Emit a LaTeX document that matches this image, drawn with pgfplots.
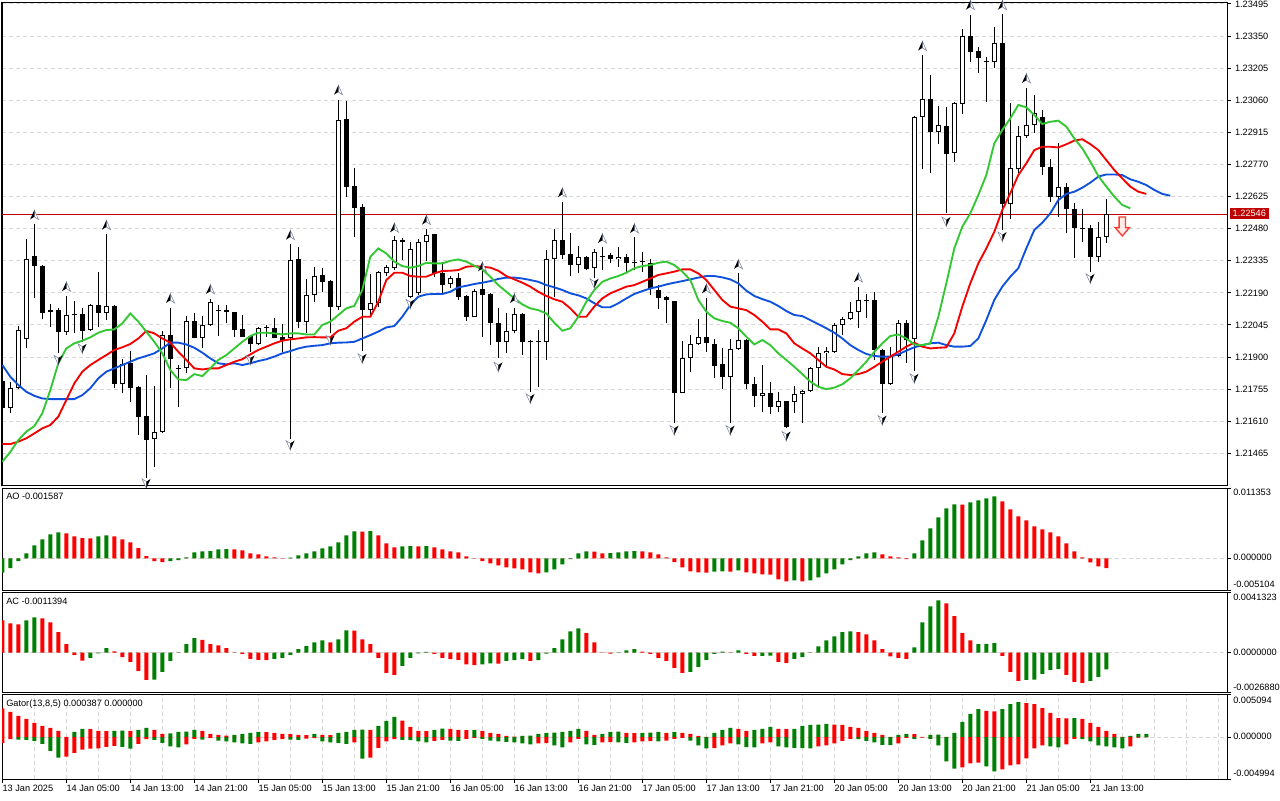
\documentclass[border=0pt]{standalone}
\usepackage{fontspec}
\setmainfont{Liberation Sans}
\usepackage{pgfplots}
\usepackage{pgfplotstable}
\pgfplotsset{compat=1.18}

\definecolor{mtgreen}{RGB}{0,128,0}
\definecolor{mtred}{RGB}{255,0,0}
\definecolor{lipsc}{RGB}{50,200,50}
\definecolor{teethc}{RGB}{245,0,0}
\definecolor{jawc}{RGB}{15,80,220}
\definecolor{gridc}{RGB}{215,215,215}
\definecolor{pricec}{RGB}{190,0,0}
\definecolor{sellc}{RGB}{255,60,50}
\definecolor{sellf}{RGB}{255,236,230}
\definecolor{arrowedge}{RGB}{120,130,160}

\pgfdeclareplotmark{fracup}{%
  \pgfsetlinewidth{0.4pt}%
  \pgfsetstrokecolor{arrowedge}%
  \pgfsetfillcolor{white}%
  \pgfpathmoveto{\pgfqpoint{0pt}{3.6pt}}%
  \pgfpathlineto{\pgfqpoint{3.2pt}{-3.4pt}}%
  \pgfpathlineto{\pgfqpoint{0pt}{-1.4pt}}%
  \pgfpathclose
  \pgfusepath{fill,stroke}%
  \pgfsetfillcolor{black}%
  \pgfpathmoveto{\pgfqpoint{0pt}{3.6pt}}%
  \pgfpathlineto{\pgfqpoint{-3.2pt}{-3.4pt}}%
  \pgfpathlineto{\pgfqpoint{0pt}{-1.4pt}}%
  \pgfpathclose
  \pgfusepath{fill}%
}
\pgfdeclareplotmark{fracdown}{%
  \pgfsetlinewidth{0.4pt}%
  \pgfsetstrokecolor{arrowedge}%
  \pgfsetfillcolor{white}%
  \pgfpathmoveto{\pgfqpoint{0pt}{-3.6pt}}%
  \pgfpathlineto{\pgfqpoint{-3.2pt}{3.4pt}}%
  \pgfpathlineto{\pgfqpoint{0pt}{1.4pt}}%
  \pgfpathclose
  \pgfusepath{fill,stroke}%
  \pgfsetfillcolor{black}%
  \pgfpathmoveto{\pgfqpoint{0pt}{-3.6pt}}%
  \pgfpathlineto{\pgfqpoint{3.2pt}{3.4pt}}%
  \pgfpathlineto{\pgfqpoint{0pt}{1.4pt}}%
  \pgfpathclose
  \pgfusepath{fill}%
}
\pgfdeclareplotmark{sellarrow}{%
  \pgfsetlinewidth{1pt}%
  \pgfsetstrokecolor{sellc}%
  \pgfsetfillcolor{sellf}%
  \pgfpathmoveto{\pgfqpoint{-2.4pt}{7.1pt}}%
  \pgfpathlineto{\pgfqpoint{2.4pt}{7.1pt}}%
  \pgfpathlineto{\pgfqpoint{2.4pt}{-0.9pt}}%
  \pgfpathlineto{\pgfqpoint{5.3pt}{-0.9pt}}%
  \pgfpathlineto{\pgfqpoint{0pt}{-7.1pt}}%
  \pgfpathlineto{\pgfqpoint{-5.3pt}{-0.9pt}}%
  \pgfpathlineto{\pgfqpoint{-2.4pt}{-0.9pt}}%
  \pgfpathclose
  \pgfusepath{fill,stroke}%
}

\newcommand{\lbl}{\fontsize{6.9}{8}\selectfont}

\pgfplotsset{
  mtaxis/.style={
    scale only axis, width=918.75pt, anchor=north west,
    xmin=-0.04, xmax=153.09,
    scaled y ticks=false, scaled x ticks=false,
    axis line style={line width=0.75pt, black},
    tick align=outside, major tick length=3pt, minor tick length=0pt,
    ytick pos=right, xtick pos=bottom,
    tick style={line width=0.75pt, black},
    grid=both,
    major grid style={gridc, line width=0.75pt, dash pattern=on 3pt off 2.25pt},
    minor grid style={gridc, line width=0.75pt, dash pattern=on 3pt off 2.25pt},
    ticklabel style={font=\lbl},
  },
  ebar/.style 2 args={mark=none, draw=none, forget plot,
    error bars/y dir=plus, error bars/y explicit, error bars/error mark=none,
    error bars/error bar style={draw=#2, line width=#1}},
}

\begin{document}

\pgfplotstableread{
k O H L C
0 1.21792 1.21796 1.21664 1.21668
1 1.21668 1.21789 1.21649 1.21759
2 1.21759 1.22040 1.21754 1.22022
3 1.21980 1.22432 1.21942 1.22341
4 1.22356 1.22501 1.22168 1.22313
5 1.22313 1.22316 1.22070 1.22100
6 1.22102 1.22140 1.22037 1.22111
7 1.22112 1.22120 1.21917 1.22015
8 1.22015 1.22176 1.21999 1.22090
9 1.22091 1.22153 1.22007 1.22088
10 1.22094 1.22120 1.21969 1.22018
11 1.22022 1.22138 1.22018 1.22135
12 1.22135 1.22284 1.22037 1.22100
13 1.22100 1.22454 1.22067 1.22131
14 1.22131 1.22134 1.21759 1.21778
15 1.21777 1.21890 1.21736 1.21867
16 1.21872 1.21927 1.21698 1.21762
17 1.21763 1.21769 1.21548 1.21631
18 1.21634 1.21819 1.21352 1.21525
19 1.21528 1.21769 1.21402 1.21560
20 1.21560 1.22019 1.21555 1.21999
21 1.21999 1.22120 1.21762 1.21890
22 1.21850 1.21864 1.21676 1.21847
23 1.21849 1.22085 1.21829 1.22063
24 1.22063 1.22100 1.21984 1.21987
25 1.21987 1.22085 1.21942 1.22045
26 1.22045 1.22164 1.22042 1.22149
27 1.22111 1.22135 1.21996 1.22108
28 1.22112 1.22135 1.22052 1.22102
29 1.22102 1.22103 1.21992 1.22022
30 1.22025 1.22090 1.21989 1.21992
31 1.21995 1.21998 1.21924 1.21957
32 1.21957 1.22037 1.21954 1.22033
33 1.22033 1.22045 1.21992 1.22031
34 1.22033 1.22075 1.21984 1.21987
35 1.21989 1.22049 1.21924 1.21974
36 1.21984 1.22409 1.21528 1.22338
37 1.22341 1.22396 1.22030 1.22060
38 1.22060 1.22253 1.22010 1.22180
39 1.22180 1.22307 1.22150 1.22266
40 1.22269 1.22304 1.22195 1.22240
41 1.22243 1.22248 1.22007 1.22128
42 1.22128 1.23061 1.22112 1.22971
43 1.22975 1.23058 1.22625 1.22670
44 1.22673 1.22753 1.22444 1.22575
45 1.22579 1.22591 1.21929 1.22112
46 1.22112 1.22275 1.22090 1.22143
47 1.22143 1.22289 1.22128 1.22284
48 1.22278 1.22316 1.22266 1.22305
49 1.22301 1.22448 1.22293 1.22429
50 1.22429 1.22439 1.22338 1.22418
51 1.22173 1.22418 1.22165 1.22388
52 1.22188 1.22433 1.22180 1.22418
53 1.22418 1.22478 1.22335 1.22451
54 1.22454 1.22454 1.22263 1.22281
55 1.22281 1.22331 1.22188 1.22225
56 1.22228 1.22268 1.22210 1.22255
57 1.22255 1.22278 1.22158 1.22173
58 1.22176 1.22180 1.22063 1.22082
59 1.22082 1.22207 1.22079 1.22198
60 1.22206 1.22296 1.21992 1.22180
61 1.22183 1.22188 1.21954 1.22052
62 1.22052 1.22120 1.21894 1.21969
63 1.21969 1.22097 1.21920 1.22018
64 1.22019 1.22120 1.22007 1.22093
65 1.22093 1.22097 1.21909 1.21966
66 1.21971 1.21977 1.21743 1.21968
67 1.21971 1.22022 1.21763 1.21969
68 1.21969 1.22384 1.21887 1.22341
69 1.22341 1.22477 1.22173 1.22429
70 1.22429 1.22602 1.22341 1.22361
71 1.22364 1.22459 1.22266 1.22316
72 1.22316 1.22403 1.22278 1.22350
73 1.22353 1.22358 1.22293 1.22298
74 1.22301 1.22388 1.22255 1.22373
75 1.22352 1.22396 1.22293 1.22356
76 1.22361 1.22368 1.22323 1.22341
77 1.22341 1.22396 1.22308 1.22353
78 1.22353 1.22365 1.22286 1.22323
79 1.22323 1.22441 1.22293 1.22331
80 1.22329 1.22373 1.22286 1.22328
81 1.22326 1.22341 1.22180 1.22206
82 1.22203 1.22225 1.22117 1.22168
83 1.22173 1.22176 1.22055 1.22158
84 1.22153 1.22155 1.21603 1.21739
85 1.21739 1.21972 1.21736 1.21894
86 1.21894 1.21999 1.21834 1.21957
87 1.21957 1.22072 1.21954 1.21989
88 1.21989 1.22168 1.21924 1.21962
89 1.21957 1.21980 1.21807 1.21861
90 1.21867 1.21942 1.21754 1.21811
91 1.21811 1.21980 1.21603 1.21935
92 1.21935 1.22281 1.21932 1.21977
93 1.21977 1.21980 1.21754 1.21777
94 1.21778 1.21808 1.21676 1.21724
95 1.21724 1.21864 1.21653 1.21736
96 1.21739 1.21786 1.21641 1.21676
97 1.21676 1.21743 1.21650 1.21701
98 1.21701 1.21701 1.21578 1.21585
99 1.21698 1.21771 1.21646 1.21731
100 1.21731 1.21751 1.21603 1.21746
101 1.21746 1.21853 1.21743 1.21849
102 1.21849 1.21947 1.21762 1.21917
103 1.21917 1.21947 1.21861 1.21927
104 1.21924 1.22055 1.21920 1.22045
105 1.22045 1.22082 1.21999 1.22070
106 1.22070 1.22147 1.22067 1.22102
107 1.22102 1.22215 1.22030 1.22158
108 1.22155 1.22185 1.22075 1.22152
109 1.22158 1.22192 1.21887 1.21932
110 1.21932 1.21935 1.21649 1.21777
111 1.21777 1.21947 1.21774 1.21905
112 1.21905 1.22067 1.21899 1.22055
113 1.22055 1.22067 1.21875 1.21977
114 1.21980 1.22989 1.21837 1.22986
115 1.22986 1.23265 1.22748 1.23064
116 1.23064 1.23174 1.22733 1.22918
117 1.22918 1.23034 1.22861 1.22948
118 1.22945 1.23031 1.22549 1.22816
119 1.22820 1.23054 1.22783 1.23046
120 1.23043 1.23382 1.22996 1.23352
121 1.23352 1.23445 1.23234 1.23280
122 1.23283 1.23302 1.23185 1.23249
123 1.23234 1.23254 1.23054 1.23233
124 1.23234 1.23392 1.23204 1.23317
125 1.23317 1.23450 1.22474 1.22590
126 1.22590 1.23046 1.22522 1.22753
127 1.22748 1.22944 1.22733 1.22899
128 1.22899 1.23117 1.22888 1.22948
129 1.22948 1.23084 1.22914 1.23001
130 1.22983 1.23016 1.22722 1.22757
131 1.22760 1.22793 1.22602 1.22625
132 1.22625 1.22865 1.22534 1.22667
133 1.22667 1.22688 1.22459 1.22567
134 1.22567 1.22597 1.22346 1.22481
135 1.22483 1.22569 1.22421 1.22480
136 1.22481 1.22496 1.22286 1.22353
137 1.22353 1.22512 1.22328 1.22444
138 1.22444 1.22614 1.22417 1.22546
}\candles

\pgfplotstableread{
k v
0 1.21427
1 1.21472
2 1.21525
3 1.21563
4 1.21588
5 1.21646
6 1.21751
7 1.21872
8 1.21939
9 1.21962
10 1.21974
11 1.21989
12 1.22010
13 1.22022
14 1.22025
15 1.22052
16 1.22097
17 1.22060
18 1.22015
19 1.21969
20 1.21917
21 1.21841
22 1.21799
23 1.21796
24 1.21823
25 1.21814
26 1.21849
27 1.21887
28 1.21909
29 1.21939
30 1.21969
31 1.21995
32 1.22010
33 1.22010
34 1.22007
35 1.22002
36 1.22007
37 1.22007
38 1.22002
39 1.22002
40 1.22045
41 1.22060
42 1.22090
43 1.22120
44 1.22131
45 1.22203
46 1.22353
47 1.22391
48 1.22368
49 1.22331
50 1.22311
51 1.22304
52 1.22311
53 1.22326
54 1.22323
55 1.22323
56 1.22335
57 1.22341
58 1.22331
59 1.22313
60 1.22296
61 1.22263
62 1.22225
63 1.22195
64 1.22165
65 1.22138
66 1.22120
67 1.22112
68 1.22097
69 1.22055
70 1.22019
71 1.22030
72 1.22082
73 1.22150
74 1.22203
75 1.22240
76 1.22255
77 1.22266
78 1.22281
79 1.22301
80 1.22311
81 1.22316
82 1.22326
83 1.22331
84 1.22316
85 1.22286
86 1.22248
87 1.22158
88 1.22105
89 1.22075
90 1.22063
91 1.22055
92 1.22030
93 1.21992
94 1.21957
95 1.21977
96 1.21954
97 1.21917
98 1.21887
99 1.21856
100 1.21823
101 1.21789
102 1.21766
103 1.21755
104 1.21762
105 1.21777
106 1.21804
107 1.21841
108 1.21879
109 1.21924
110 1.21962
111 1.21995
112 1.22002
113 1.21984
114 1.21957
115 1.21954
116 1.21962
117 1.22082
118 1.22233
119 1.22391
120 1.22489
121 1.22549
122 1.22632
123 1.22722
124 1.22865
125 1.22926
126 1.22978
127 1.23039
128 1.23028
129 1.22993
130 1.22953
131 1.22963
132 1.22968
133 1.22941
134 1.22888
135 1.22843
136 1.22783
137 1.22718
138 1.22670
139 1.22625
140 1.22587
141 1.22572
}\lips

\pgfplotstableread{
k v
0 1.21507
1 1.21507
2 1.21518
3 1.21533
4 1.21555
5 1.21578
6 1.21593
7 1.21631
8 1.21706
9 1.21781
10 1.21834
11 1.21864
12 1.21887
13 1.21909
14 1.21932
15 1.21944
16 1.21959
17 1.21984
18 1.22018
19 1.22007
20 1.21984
21 1.21965
22 1.21924
23 1.21887
24 1.21849
25 1.21844
26 1.21849
27 1.21849
28 1.21864
29 1.21879
30 1.21890
31 1.21912
32 1.21932
33 1.21947
34 1.21962
35 1.21974
36 1.21980
37 1.21984
38 1.21989
39 1.21990
40 1.21989
41 1.21989
42 1.22019
43 1.22030
44 1.22060
45 1.22082
46 1.22082
47 1.22150
48 1.22248
49 1.22281
50 1.22281
51 1.22266
52 1.22263
53 1.22263
54 1.22278
55 1.22289
56 1.22290
57 1.22293
58 1.22308
59 1.22311
60 1.22308
61 1.22304
62 1.22290
63 1.22266
64 1.22251
65 1.22236
66 1.22218
67 1.22195
68 1.22176
69 1.22161
70 1.22150
71 1.22120
72 1.22082
73 1.22082
74 1.22128
75 1.22165
76 1.22188
77 1.22203
78 1.22218
79 1.22225
80 1.22240
81 1.22255
82 1.22271
83 1.22278
84 1.22286
85 1.22296
86 1.22296
87 1.22278
88 1.22248
89 1.22203
90 1.22158
91 1.22128
92 1.22120
93 1.22112
94 1.22090
95 1.22060
96 1.22025
97 1.22025
98 1.22007
99 1.21962
100 1.21939
101 1.21917
102 1.21887
103 1.21856
104 1.21844
105 1.21823
106 1.21819
107 1.21823
108 1.21834
109 1.21856
110 1.21879
111 1.21902
112 1.21924
113 1.21947
114 1.21965
115 1.21947
116 1.21939
117 1.21942
118 1.21944
119 1.22007
120 1.22128
121 1.22233
122 1.22323
123 1.22391
124 1.22466
125 1.22564
126 1.22640
127 1.22722
128 1.22775
129 1.22835
130 1.22850
131 1.22850
132 1.22847
133 1.22861
134 1.22878
135 1.22884
136 1.22862
137 1.22835
138 1.22790
139 1.22745
140 1.22707
141 1.22670
142 1.22647
143 1.22637
}\teeth

\pgfplotstableread{
k v
0 1.21864
1 1.21811
2 1.21774
3 1.21743
4 1.21725
5 1.21713
6 1.21710
7 1.21710
8 1.21710
9 1.21710
10 1.21728
11 1.21759
12 1.21804
13 1.21834
14 1.21849
15 1.21864
16 1.21879
17 1.21894
18 1.21905
19 1.21917
20 1.21939
21 1.21965
22 1.21965
23 1.21957
24 1.21942
25 1.21920
26 1.21894
27 1.21872
28 1.21867
29 1.21872
30 1.21864
31 1.21872
32 1.21882
33 1.21890
34 1.21902
35 1.21917
36 1.21927
37 1.21939
38 1.21947
39 1.21951
40 1.21954
41 1.21962
42 1.21965
43 1.21966
44 1.21969
45 1.21984
46 1.21999
47 1.22015
48 1.22034
49 1.22040
50 1.22082
51 1.22135
52 1.22173
53 1.22183
54 1.22185
55 1.22185
56 1.22195
57 1.22215
58 1.22222
59 1.22230
60 1.22236
61 1.22243
62 1.22253
63 1.22259
64 1.22259
65 1.22255
66 1.22248
67 1.22240
68 1.22225
69 1.22215
70 1.22203
71 1.22188
72 1.22179
73 1.22165
74 1.22143
75 1.22125
76 1.22125
77 1.22143
78 1.22165
79 1.22185
80 1.22198
81 1.22210
82 1.22218
83 1.22228
84 1.22236
85 1.22243
86 1.22251
87 1.22259
88 1.22266
89 1.22266
90 1.22260
91 1.22251
92 1.22233
93 1.22200
94 1.22176
95 1.22162
96 1.22150
97 1.22131
98 1.22108
99 1.22090
100 1.22085
101 1.22067
102 1.22049
103 1.22030
104 1.22010
105 1.21984
106 1.21954
107 1.21932
108 1.21914
109 1.21905
110 1.21902
111 1.21902
112 1.21912
113 1.21929
114 1.21944
115 1.21954
116 1.21962
117 1.21965
118 1.21954
119 1.21947
120 1.21947
121 1.21950
122 1.21984
123 1.22067
124 1.22158
125 1.22218
126 1.22263
127 1.22301
128 1.22391
129 1.22474
130 1.22507
131 1.22549
132 1.22609
133 1.22637
134 1.22647
135 1.22665
136 1.22688
137 1.22715
138 1.22725
139 1.22725
140 1.22722
141 1.22703
142 1.22692
143 1.22677
144 1.22655
145 1.22637
146 1.22629
}\jaw

\pgfplotstableread{
k p
4 1.22542
8 1.22218
13 1.22496
21 1.22165
26 1.22206
36 1.22451
42 1.23106
49 1.22484
53 1.22519
60 1.22308
64 1.22165
70 1.22643
75 1.22436
79 1.22481
88 1.22209
92 1.22319
107 1.22259
115 1.23305
121 1.23490
125 1.23490
128 1.23159
}\fup

\pgfplotstableread{
k p
7 1.21887
10 1.21939
18 1.21329
31 1.21887
36 1.21502
41 1.21977
45 1.21894
51 1.22140
62 1.21856
66 1.21713
74 1.22233
84 1.21570
91 1.21570
98 1.21543
110 1.21615
114 1.21804
118 1.22512
125 1.22444
136 1.22255
}\fdown

\pgfplotstableread{
k v g
0 -0.00231 1
1 -0.00156 1
2 -0.00043 1
3 0.00081 1
4 0.00210 1
5 0.00307 1
6 0.00387 1
7 0.00420 1
8 0.00404 0
9 0.00355 0
10 0.00328 0
11 0.00323 0
12 0.00355 1
13 0.00371 1
14 0.00355 0
15 0.00307 0
16 0.00258 0
17 0.00167 0
18 0.00038 0
19 -0.00043 0
20 -0.00059 0
21 -0.00043 1
22 -0.00027 1
23 0.00016 1
24 0.00097 1
25 0.00113 1
26 0.00118 1
27 0.00145 1
28 0.00151 1
29 0.00145 0
30 0.00129 0
31 0.00081 0
32 0.00065 0
33 0.00032 0
34 0.00016 0
35 -0.00005 0
36 0.00011 1
37 0.00048 1
38 0.00081 1
39 0.00113 1
40 0.00161 1
41 0.00194 1
42 0.00258 1
43 0.00371 1
44 0.00436 1
45 0.00433 0
46 0.00441 1
47 0.00371 0
48 0.00242 0
49 0.00178 0
50 0.00194 1
51 0.00199 1
52 0.00194 0
53 0.00199 1
54 0.00178 0
55 0.00145 0
56 0.00113 0
57 0.00097 0
58 0.00032 0
59 0.00005 0
60 -0.00043 0
61 -0.00081 0
62 -0.00113 0
63 -0.00145 0
64 -0.00161 0
65 -0.00178 0
66 -0.00226 0
67 -0.00242 0
68 -0.00226 1
69 -0.00178 1
70 -0.00097 1
71 -0.00011 1
72 0.00081 1
73 0.00113 1
74 0.00108 0
75 0.00081 0
76 0.00086 1
77 0.00097 1
78 0.00113 1
79 0.00118 1
80 0.00113 0
81 0.00097 0
82 0.00065 0
83 0.00016 0
84 -0.00059 0
85 -0.00145 0
86 -0.00210 0
87 -0.00226 0
88 -0.00231 0
89 -0.00215 1
90 -0.00210 1
91 -0.00215 0
92 -0.00194 1
93 -0.00226 0
94 -0.00242 0
95 -0.00258 0
96 -0.00264 0
97 -0.00339 0
98 -0.00371 0
99 -0.00355 1
100 -0.00371 0
101 -0.00355 1
102 -0.00307 1
103 -0.00242 1
104 -0.00178 1
105 -0.00097 1
106 -0.00027 1
107 0.00032 1
108 0.00081 1
109 0.00097 1
110 0.00065 0
111 0.00032 0
112 0.00016 0
113 -0.00011 0
114 0.00081 1
115 0.00290 1
116 0.00484 1
117 0.00662 1
118 0.00807 1
119 0.00872 1
120 0.00866 0
121 0.00904 1
122 0.00936 1
123 0.00968 1
124 0.01001 1
125 0.00920 0
126 0.00791 0
127 0.00678 0
128 0.00613 0
129 0.00516 0
130 0.00468 0
131 0.00420 0
132 0.00355 0
133 0.00242 0
134 0.00113 0
135 0.00016 0
136 -0.00065 0
137 -0.00129 0
138 -0.00159 0
}\ao

\pgfplotstableread{
k v g
0 0.00220 0
1 0.00200 0
2 0.00193 0
3 0.00220 1
4 0.00241 1
5 0.00234 0
6 0.00207 0
7 0.00139 0
8 0.00057 0
9 -0.00016 0
10 -0.00055 0
11 -0.00036 1
12 -0.00005 1
13 0.00030 1
14 0.00009 0
15 -0.00030 0
16 -0.00064 0
17 -0.00125 0
18 -0.00186 0
19 -0.00184 1
20 -0.00132 1
21 -0.00057 1
22 -0.00002 1
23 0.00057 1
24 0.00098 1
25 0.00086 0
26 0.00057 0
27 0.00050 0
28 0.00030 0
29 -0.00002 0
30 -0.00009 0
31 -0.00043 0
32 -0.00050 0
33 -0.00052 0
34 -0.00043 1
35 -0.00036 1
36 -0.00016 1
37 0.00023 1
38 0.00045 1
39 0.00070 1
40 0.00084 1
41 0.00070 0
42 0.00091 1
43 0.00152 1
44 0.00150 0
45 0.00091 0
46 0.00057 0
47 -0.00036 0
48 -0.00139 0
49 -0.00152 0
50 -0.00091 1
51 -0.00036 1
52 -0.00005 1
53 0.00005 1
54 -0.00009 0
55 -0.00036 0
56 -0.00045 0
57 -0.00050 0
58 -0.00080 0
59 -0.00086 0
60 -0.00080 1
61 -0.00073 1
62 -0.00075 0
63 -0.00057 1
64 -0.00052 1
65 -0.00045 1
66 -0.00057 0
67 -0.00052 1
68 -0.00007 1
69 0.00030 1
70 0.00091 1
71 0.00145 1
72 0.00166 1
73 0.00132 0
74 0.00070 0
75 -0.00002 0
76 -0.00007 0
77 -0.00002 1
78 0.00016 1
79 0.00023 1
80 0.00007 0
81 -0.00009 0
82 -0.00036 0
83 -0.00057 0
84 -0.00105 0
85 -0.00139 0
86 -0.00132 1
87 -0.00098 1
88 -0.00050 1
89 -0.00009 1
90 0.00007 1
91 -0.00002 0
92 0.00016 1
93 -0.00009 0
94 -0.00023 0
95 -0.00022 1
96 -0.00020 1
97 -0.00064 0
98 -0.00070 0
99 -0.00043 1
100 -0.00030 1
101 -0.00002 1
102 0.00043 1
103 0.00084 1
104 0.00111 1
105 0.00139 1
106 0.00145 1
107 0.00139 0
108 0.00125 0
109 0.00084 0
110 0.00023 0
111 -0.00025 0
112 -0.00036 0
113 -0.00043 0
114 0.00036 1
115 0.00207 1
116 0.00316 1
117 0.00357 1
118 0.00336 0
119 0.00248 0
120 0.00132 0
121 0.00084 0
122 0.00057 1
123 0.00059 1
124 0.00064 1
125 -0.00023 0
126 -0.00132 0
127 -0.00193 0
128 -0.00186 1
129 -0.00184 1
130 -0.00145 1
131 -0.00118 1
132 -0.00111 1
133 -0.00152 0
134 -0.00200 0
135 -0.00207 0
136 -0.00193 1
137 -0.00166 1
138 -0.00114 1
}\ac

\pgfplotstableread{
k u ug l lg
0 0.00344 0 -0.00071 0
1 0.00301 0 -0.00024 0
2 0.00253 0 -0.00028 1
3 0.00218 0 -0.00032 1
4 0.00170 0 -0.00044 1
5 0.00135 0 -0.00079 1
6 0.00111 0 -0.00162 1
7 0.00075 0 -0.00245 1
8 0.00004 0 -0.00233 0
9 0.00063 1 -0.00186 0
10 0.00099 1 -0.00150 0
11 0.00095 0 -0.00138 0
12 0.00075 0 -0.00135 0
13 0.00071 0 -0.00115 0
14 0.00075 1 -0.00103 0
15 0.00079 1 -0.00115 1
16 0.00075 0 -0.00138 1
17 0.00087 1 -0.00079 0
18 0.00111 1 -0.00024 0
19 0.00087 0 -0.00032 1
20 0.00040 0 -0.00067 1
21 0.00044 1 -0.00111 1
22 0.00063 1 -0.00123 1
23 0.00067 1 -0.00087 0
24 0.00087 1 -0.00020 0
25 0.00075 0 -0.00028 1
26 0.00040 0 -0.00008 0
27 0.00028 0 -0.00040 1
28 0.00020 0 -0.00051 1
29 0.00028 1 -0.00063 1
30 0.00040 1 -0.00075 1
31 0.00051 1 -0.00079 1
32 0.00063 1 -0.00063 0
33 0.00059 0 -0.00051 0
34 0.00051 0 -0.00032 0
35 0.00040 0 -0.00024 0
36 0.00036 0 -0.00028 1
37 0.00028 0 -0.00032 1
38 0.00024 0 -0.00016 0
39 0.00040 1 -0.00012 0
40 0.00028 0 -0.00051 1
41 0.00024 0 -0.00063 1
42 0.00051 1 -0.00067 1
43 0.00063 1 -0.00079 1
44 0.00087 1 -0.00063 0
45 0.00091 1 -0.00257 1
46 0.00087 0 -0.00245 0
47 0.00135 1 -0.00127 0
48 0.00194 1 -0.00051 0
49 0.00241 1 -0.00024 0
50 0.00198 0 -0.00032 1
51 0.00123 0 -0.00036 1
52 0.00075 0 -0.00051 1
53 0.00071 0 -0.00063 1
54 0.00087 1 -0.00044 0
55 0.00103 1 -0.00032 0
56 0.00099 0 -0.00040 1
57 0.00087 0 -0.00044 1
58 0.00083 0 -0.00020 0
59 0.00087 1 -0.00008 0
60 0.00075 0 -0.00020 1
61 0.00051 0 -0.00040 1
62 0.00040 0 -0.00051 1
63 0.00016 0 -0.00055 1
64 0.00008 0 -0.00063 1
65 0.00016 1 -0.00075 1
66 0.00020 1 -0.00087 1
67 0.00040 1 -0.00075 0
68 0.00051 1 -0.00071 0
69 0.00055 1 -0.00099 1
70 0.00063 1 -0.00123 1
71 0.00075 1 -0.00063 0
72 0.00099 1 -0.00020 0
73 0.00075 0 -0.00087 1
74 0.00028 0 -0.00091 1
75 0.00040 1 -0.00063 0
76 0.00063 1 -0.00059 0
77 0.00067 1 -0.00063 1
78 0.00051 0 -0.00067 1
79 0.00047 0 -0.00063 0
80 0.00051 1 -0.00051 0
81 0.00055 1 -0.00047 0
82 0.00063 1 -0.00051 1
83 0.00051 0 -0.00040 0
84 0.00063 1 -0.00020 0
85 0.00051 0 -0.00008 0
86 0.00040 0 -0.00040 1
87 0.00016 0 -0.00099 1
88 0.00004 0 -0.00135 1
89 0.00051 1 -0.00131 0
90 0.00087 1 -0.00099 0
91 0.00111 1 -0.00075 0
92 0.00099 0 -0.00087 1
93 0.00075 0 -0.00119 1
94 0.00087 1 -0.00123 1
95 0.00099 1 -0.00075 0
96 0.00123 1 -0.00063 0
97 0.00099 0 -0.00111 1
98 0.00095 0 -0.00123 1
99 0.00099 1 -0.00127 1
100 0.00135 1 -0.00131 1
101 0.00146 1 -0.00135 1
102 0.00150 1 -0.00111 0
103 0.00158 1 -0.00099 0
104 0.00150 0 -0.00075 0
105 0.00146 0 -0.00044 0
106 0.00123 0 -0.00020 0
107 0.00111 0 -0.00024 1
108 0.00075 0 -0.00044 1
109 0.00051 0 -0.00063 1
110 0.00028 0 -0.00091 1
111 0.00004 0 -0.00095 1
112 0.00028 1 -0.00075 0
113 0.00040 1 -0.00008 0
114 0.00036 0 -0.00020 1
115 0.00004 0 -0.00004 0
116 0.00028 1 -0.00020 1
117 0.00032 1 -0.00099 1
118 0.00004 0 -0.00289 1
119 0.00051 1 -0.00376 1
120 0.00182 1 -0.00360 0
121 0.00277 1 -0.00313 0
122 0.00336 1 -0.00305 0
123 0.00313 0 -0.00348 1
124 0.00309 0 -0.00407 1
125 0.00336 1 -0.00384 0
126 0.00396 1 -0.00336 0
127 0.00419 1 -0.00324 0
128 0.00407 0 -0.00253 0
129 0.00396 0 -0.00135 0
130 0.00348 0 -0.00099 0
131 0.00289 0 -0.00111 1
132 0.00229 0 -0.00123 1
133 0.00225 0 -0.00087 0
134 0.00229 1 -0.00020 0
135 0.00218 0 -0.00024 1
136 0.00170 0 -0.00051 1
137 0.00123 0 -0.00099 1
138 0.00075 0 -0.00111 1
139 0.00040 0 -0.00123 1
140 0.00004 0 -0.00135 1
141 0.00016 1 -0.00111 0
142 0.00040 1 -0.00004 0
143 0.000387 1 0 0
}\gator

\begin{tikzpicture}
\fill[white] (0pt,0pt) rectangle (960pt,-600pt);
\path[use as bounding box] (0pt,0pt) rectangle (960pt,-600pt);

% ---------------- main price panel
\begin{axis}[mtaxis, at={(1.5pt,-1.5pt)}, height=362.25pt,
  ymin=1.21322, ymax=1.23504,
  xtick=\empty, minor xtick={4,8,...,152},
  ytick={1.21465,1.21610,1.21755,1.21900,1.22045,1.22190,1.22335,1.22480,1.22625,1.22770,1.22915,1.23060,1.23205,1.23350,1.23495},
  yticklabels={1.21465,1.21610,1.21755,1.21900,1.22045,1.22190,1.22335,1.22480,1.22625,1.22770,1.22915,1.23060,1.23205,1.23350,1.23495},
  yticklabel style={anchor=west, xshift=-0.5pt},
]
\addplot[pricec, line width=0.75pt, forget plot] coordinates {(-1,1.22546) (155,1.22546)};
% wicks
\addplot[ebar={0.75pt}{black}]
  table[x=k, y=L, y error plus expr=\thisrow{H}-\thisrow{L}] {\candles};
% bodies (black)
\addplot[ebar={3.3pt}{black}]
  table[x=k, y expr={min(\thisrow{O},\thisrow{C})}, y error plus expr={max(abs(\thisrow{C}-\thisrow{O}),0.000045)}] {\candles};
% hollow interior of rising candles
\addplot[ebar={1.8pt}{white}]
  table[x=k, y expr={min(\thisrow{O},\thisrow{C})+0.000045}, y error plus expr={max(\thisrow{C}-\thisrow{O}-0.00009,0)}] {\candles};
% alligator
\addplot[jawc, line width=1.4pt, forget plot] table[x=k, y=v] {\jaw};
\addplot[teethc, line width=1.4pt, forget plot] table[x=k, y=v] {\teeth};
\addplot[lipsc, line width=1.4pt, forget plot] table[x=k, y=v] {\lips};
% fractals
\addplot[only marks, mark=fracup, forget plot] table[x=k, y=p] {\fup};
\addplot[only marks, mark=fracdown, forget plot] table[x=k, y=p] {\fdown};
% sell signal
\addplot[only marks, mark=sellarrow, forget plot] coordinates {(140,1.22490)};
\end{axis}

% ---------------- AO
\begin{axis}[mtaxis, at={(1.5pt,-366pt)}, height=76.5pt,
  ymin=-0.005104, ymax=0.011353,
  xtick=\empty, minor xtick={4,8,...,152},
  ytick={-0.005104,0,0.011353}, yticklabels={},
]
\addplot[ybar, bar width=3pt, bar shift=0pt, fill=mtgreen, draw=none] table[x=k, y expr=\thisrow{v}*\thisrow{g}] {\ao};
\addplot[ybar, bar width=3pt, bar shift=0pt, fill=mtred, draw=none] table[x=k, y expr=\thisrow{v}*(1-\thisrow{g})] {\ao};
\end{axis}

% ---------------- AC
\begin{axis}[mtaxis, at={(1.5pt,-444pt)}, height=75pt,
  ymin=-0.0026880, ymax=0.0041323,
  xtick=\empty, minor xtick={4,8,...,152},
  ytick={-0.0026880,0,0.0041323}, yticklabels={},
]
\addplot[ybar, bar width=3pt, bar shift=0pt, fill=mtgreen, draw=none] table[x=k, y expr=\thisrow{v}*\thisrow{g}] {\ac};
\addplot[ybar, bar width=3pt, bar shift=0pt, fill=mtred, draw=none] table[x=k, y expr=\thisrow{v}*(1-\thisrow{g})] {\ac};
\end{axis}

% ---------------- Gator
\begin{axis}[mtaxis, at={(1.5pt,-520.875pt)}, height=63.375pt,
  ymin=-0.004994, ymax=0.005094,
  xtick={0,8,...,136},
  xticklabels={13 Jan 2025,14 Jan 05:00,14 Jan 13:00,14 Jan 21:00,15 Jan 05:00,15 Jan 13:00,15 Jan 21:00,16 Jan 05:00,16 Jan 13:00,16 Jan 21:00,17 Jan 05:00,17 Jan 13:00,17 Jan 21:00,20 Jan 05:00,20 Jan 13:00,20 Jan 21:00,21 Jan 05:00,21 Jan 13:00},
  xticklabel style={anchor=north west, inner sep=0pt, yshift=-1.5pt},
  minor xtick={4,12,...,132,140,144,148,152},
  ytick={-0.004994,0,0.005094}, yticklabels={},
]
\addplot[ybar, bar width=3pt, bar shift=0pt, fill=mtgreen, draw=none] table[x=k, y expr=\thisrow{u}*\thisrow{ug}] {\gator};
\addplot[ybar, bar width=3pt, bar shift=0pt, fill=mtred, draw=none] table[x=k, y expr=\thisrow{u}*(1-\thisrow{ug})] {\gator};
\addplot[ybar, bar width=3pt, bar shift=0pt, fill=mtgreen, draw=none] table[x=k, y expr=\thisrow{l}*\thisrow{lg}] {\gator};
\addplot[ybar, bar width=3pt, bar shift=0pt, fill=mtred, draw=none] table[x=k, y expr=\thisrow{l}*(1-\thisrow{lg})] {\gator};
\end{axis}

% ---------------- panel captions and scale labels
\begin{scope}[every node/.style={font=\lbl, inner sep=0pt, anchor=west}]
\node at (4.5pt,-372.5pt) {AO -0.001587};
\node at (4.5pt,-451.3pt) {AC -0.0011394};
\node at (4.5pt,-528.2pt) {Gator(13,8,5) 0.000387 0.000000};
\node at (924.75pt,-369.2pt) {0.011353};
\node at (924.75pt,-418pt) {0.000000};
\node at (924.75pt,-438.2pt) {-0.005104};
\node at (924.75pt,-448pt) {0.0041323};
\node at (924.75pt,-489pt) {0.0000000};
\node at (924.75pt,-515.5pt) {-0.0026880};
\node at (924.75pt,-525.2pt) {0.005094};
\node at (924.75pt,-552pt) {0.000000};
\node at (924.75pt,-580pt) {-0.004994};
\end{scope}
\node[fill=pricec, text=white, font=\lbl, inner sep=0pt, minimum width=29pt, minimum height=8.3pt] at (937pt,-160.1pt) {1.22546};
\end{tikzpicture}
\end{document}
